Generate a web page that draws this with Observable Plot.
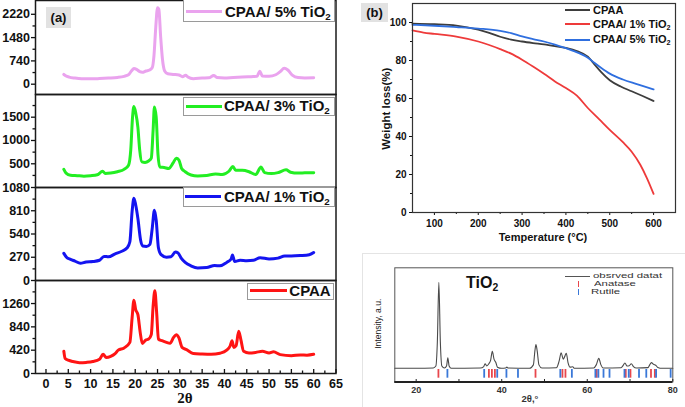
<!DOCTYPE html>
<html><head><meta charset="utf-8">
<script src="https://cdn.jsdelivr.net/npm/d3@7"></script>
<script src="https://cdn.jsdelivr.net/npm/@observablehq/plot@0.6"></script>
<style>
body{margin:0;background:#fff;}
#root{position:relative;width:685px;height:407px;overflow:hidden;font-family:"Liberation Sans",Arial,sans-serif;color:#111;}
#root div{position:absolute;box-sizing:border-box;}
sub{font-size:0.65em;line-height:0;vertical-align:-0.28em;}
</style></head>
<body><div id="root"></div>
<script>
// ---------- DATA ----------
// Panel (a): XRD patterns [2θ, intensity]
const cpaa5Ti = [[4,310],[4.4,270],[5.2,225],[6.5,195],[8,175],[10,170],[12,180],[14,195],[16,215],[17.5,250],[18.5,300],[19.2,430],[19.7,495],[20.3,470],[21,400],[21.6,380],[22.4,420],[23.2,450],[23.8,520],[24.2,900],[24.6,1800],[25,2430],[25.3,2380],[25.7,1500],[26.1,800],[26.6,420],[27.3,330],[28.5,310],[29.8,290],[30.6,240],[31.3,285],[31.8,230],[33,175],[35,195],[36.5,205],[37.6,275],[38.3,215],[40,200],[42,215],[44,225],[46,240],[47.3,250],[47.9,410],[48.5,260],[50,250],[51.5,300],[52.5,400],[53.4,505],[54.2,450],[55.2,290],[56.5,210],[58,200],[60,205]];
const cpaa3Ti = [[4,380],[4.5,300],[5.5,255],[7,245],[8.5,235],[10,245],[11.5,265],[12.7,340],[13.3,290],[14.5,300],[16,330],[17.5,380],[18.5,470],[19,800],[19.4,1500],[19.7,1730],[20.1,1600],[20.6,1280],[21,800],[21.5,540],[22.2,530],[23,560],[23.6,620],[24,1200],[24.3,1720],[24.7,1500],[25.1,700],[25.5,430],[26.5,420],[27.5,400],[28.5,520],[29.2,620],[29.8,580],[30.4,400],[31.2,330],[32.5,260],[34,240],[36,250],[38,280],[39.5,270],[41,340],[41.9,440],[42.5,360],[44,360],[45.5,330],[47,270],[48.2,430],[49,310],[50.5,290],[52,310],[53.8,370],[54.8,320],[56.5,300],[58,305],[60,310]];
const cpaa1Ti = [[4,315],[4.6,270],[5.5,245],[6.5,225],[7.7,200],[9,215],[10.5,220],[12,235],[13,280],[14,275],[15.5,310],[17,340],[18.2,380],[18.8,450],[19.3,800],[19.7,955],[20.1,880],[20.6,720],[21.2,470],[21.7,400],[22.5,395],[23.3,420],[23.8,600],[24.3,815],[24.7,700],[25.2,380],[25.8,300],[27,270],[28,275],[29,330],[29.6,320],[30.3,260],[31.2,210],[32.5,170],[34,145],[36,150],[37.8,175],[39,170],[40.5,210],[41.5,250],[41.8,295],[42.3,220],[43.5,235],[45,230],[46.5,235],[48,265],[50,250],[52,260],[53.5,285],[55,285],[57,290],[59,300],[60,325]];
const cpaaXrd = [[4,400],[4.3,270],[5,240],[6,215],[7.5,195],[9,200],[10.5,215],[12,255],[12.8,345],[13.5,290],[14.5,310],[15.5,360],[16.2,420],[17.5,460],[18.8,560],[19.3,1000],[19.7,1320],[20.1,1150],[20.6,1060],[21.1,750],[21.6,540],[22.3,600],[23,620],[23.6,700],[24,1200],[24.4,1490],[24.8,1100],[25.2,620],[26,590],[27,560],[27.8,545],[28.6,650],[29.2,700],[29.8,640],[30.5,470],[31.5,430],[33,360],[35,350],[37,345],[39,365],[40.5,420],[41.3,500],[41.7,590],[42.1,470],[42.6,500],[43.2,760],[43.7,600],[44.3,400],[45.5,370],[47,380],[48.5,400],[50,370],[51,390],[52.5,340],[55,320],[57,335],[58.5,330],[60,345]];
const xTicksA = [0,5,10,15,20,25,30,35,40,45,50,55,60,65];
const xMinorA = [2.5,7.5,12.5,17.5,22.5,27.5,32.5,37.5,42.5,47.5,52.5,57.5,62.5];
const yTicks5 = [0,740,1480,2220], yMinor5 = [370,1110,1850];
const yTicks3 = [500,1000,1500], yMinor3 = [250,750,1250,1750];
const yTicks1 = [0,270,540,810,1080], yMinor1 = [135,405,675,945];
const yTicks0 = [0,420,840,1260], yMinor0 = [210,630,1050,1470];

// Panel (b): TGA [temperature °C, weight %]
const tgaCpaa = [[50,99.4],[100,99.1],[150,98.4],[200,96.2],[225,94.5],[250,92.5],[275,91],[300,90],[325,89.2],[350,88.5],[375,87.6],[400,86.6],[425,85],[450,82],[465,78],[480,74],[500,69.6],[525,66.3],[550,63.8],[575,61.3],[600,58.7]];
const tgaCpaa1Ti = [[50,95.8],[75,94.7],[100,94],[150,92.6],[200,90],[250,86],[275,83.6],[300,80.4],[325,76.8],[350,73],[375,69],[400,65.5],[425,61.5],[450,55],[475,49.3],[500,43.5],[530,37],[550,32],[570,25],[585,18],[600,9.8]];
const tgaCpaa5Ti = [[50,98.8],[100,98.3],[150,97.6],[200,96.8],[250,95.6],[275,94.4],[300,92.7],[325,91.3],[350,90],[375,88.4],[400,86.5],[430,83.9],[450,81.5],[465,78.8],[480,76.2],[500,73.1],[530,70],[560,67.7],[600,64.8]];
const tgaXTicks = [100,200,300,400,500,600], tgaXMinor = [150,250,350,450,550];
const tgaYTicks = [0,20,40,60,80,100], tgaYMinor = [10,30,50,70,90];

// TiO2 reference pattern [2θ, intensity a.u.]
const tio2Pattern = [[15,12],[20,12],[24,12.3],[24.6,14],[24.95,35],[25.3,87.4],[25.65,35],[26,14],[26.6,12.3],[27.1,14],[27.4,21.3],[27.7,14],[28.2,12],[35,12.2],[35.8,13.5],[36.1,16],[36.5,14],[37,16],[37.4,19],[37.8,26.8],[38.2,20],[38.6,17.3],[39,13],[40,12],[40.9,12.3],[41.2,13],[41.5,12.2],[46.5,12],[47.4,15],[47.75,27],[48,32.8],[48.3,27],[48.7,15],[49.4,12.2],[52.8,12.5],[53.4,18],[53.9,25.5],[54.4,20],[54.7,22],[55.1,25.2],[55.5,17],[56,13],[56.6,13.3],[57,12],[61.5,12.3],[62.1,15],[62.7,20.7],[63.2,15],[63.7,12.3],[67.9,12.5],[68.4,14.5],[68.8,16.7],[69.3,14],[69.8,14.2],[70.3,16],[70.8,13.5],[71.5,12.2],[74.2,12.6],[74.6,15],[75,17],[75.5,15.5],[76,14.7],[76.5,12.8],[77.5,12],[80,12]];
const anatasePos = [25.2,37.0,37.7,38.4,47.9,54.2,54.9,62.2,69.0,70.1,74.9,75.8];
const rutilePos = [27.3,35.9,38.95,41.1,43.8,53.7,56.4,61.9,62.6,63.8,65.2,68.7,69.7,72.1,73.8,76.1,79.5];
const tio2XMinor = [20,30,40,50,60,70,80], tio2XTicks = [20,40,60,80];

// ---------- DRAWING ----------
const root = document.getElementById("root");
const plain = d => String(d);
function put(el, left, top) { const d = document.createElement("div"); d.style.left = left + "px"; d.style.top = top + "px"; d.append(el); root.append(d); return d; }
function div(left, top, w, h, css) { const d = document.createElement("div"); d.style.cssText = `left:${left}px;top:${top}px;width:${w}px;height:${h}px;${css||""}`; root.append(d); return d; }
function txt(left, yc, fs, content, css) { const d = document.createElement("div"); d.style.cssText = `left:${left}px;top:${yc - fs/2}px;font-size:${fs}px;line-height:1;white-space:nowrap;${css||""}`; d.innerHTML = content; root.append(d); return d; }

const svgStyle = {fontFamily: "Liberation Sans, Arial, sans-serif", overflow: "visible", background: "transparent", color: "#111"};

function xrdPlot(series, color, yDomain, yMajor, yMinor, frameH, withX) {
  const mb = withX ? 34 : 0;
  const marks = [
    Plot.axisY(yMajor, {tickSize: 4, tickPadding: 1.5, tickFormat: plain, fontSize: 12.5, fontWeight: "bold", label: null, strokeWidth: 1.3}),
    Plot.axisY(yMinor, {tickSize: 2.5, tickFormat: () => "", label: null, strokeWidth: 1.3}),
    Plot.line(series, {x: d => d[0], y: d => d[1], stroke: color, strokeWidth: 3, curve: "monotone-x", strokeLinejoin: "round"}),
    Plot.frame({stroke: "#1a1a1a", strokeWidth: 1.5})
  ];
  if (withX) marks.push(
    Plot.axisX(xTicksA, {tickSize: 4, dy: -4, tickFormat: () => "", label: null, strokeWidth: 1.3}),
    Plot.axisX(xMinorA, {tickSize: 2.5, dy: -2.5, tickFormat: () => "", label: null, strokeWidth: 1.3}),
    Plot.axisX(xTicksA, {tickSize: 0, tickPadding: 5.5, tickFormat: plain, fontSize: 12.5, fontWeight: "bold", label: null})
  );
  return Plot.plot({
    width: 340, height: frameH + mb, marginLeft: 35, marginRight: 4.5, marginTop: 0, marginBottom: mb,
    x: {domain: [-2.35, 65], axis: null}, y: {domain: yDomain, axis: null},
    style: svgStyle, marks
  });
}

const cViolet = "#eaa3ee", cGreen = "#22ee22", cBlue = "#1414f0", cRed = "#ff1414";
put(xrdPlot(cpaa5Ti, cViolet, [-327, 2658], yTicks5, yMinor5, 94, false), 0, 0);
put(xrdPlot(cpaa3Ti, cGreen, [-9, 1987], yTicks3, yMinor3, 93, false), 0, 94);
put(xrdPlot(cpaa1Ti, cBlue, [0, 1080], yTicks1, yMinor1, 93, false), 0, 187);
put(xrdPlot(cpaaXrd, cRed, [0, 1675], yTicks0, yMinor0, 93, true), 0, 280);

// legends panel (a)
const legCss = "border:1px solid #9a9a9a;background:#fff;";
div(183, -1, 152, 23, legCss); div(186, 9.5, 36, 3, `background:${cViolet}`); txt(225, 11.5, 15, "CPAA/ 5% TiO<sub>2</sub>", "font-weight:bold");
div(183, 96.5, 152, 19, legCss); div(186, 104.5, 36, 3, `background:${cGreen}`); txt(224, 105.5, 15, "CPAA/ 3% TiO<sub>2</sub>", "font-weight:bold");
div(183, 187, 152, 19.5, legCss); div(185, 195, 36, 3, `background:${cBlue}`); txt(224, 196.5, 15, "CPAA/ 1% TiO<sub>2</sub>", "font-weight:bold");
div(247, 283, 87, 16.5, legCss); div(250, 289, 37, 3, `background:${cRed}`); txt(289.3, 290.5, 15, "CPAA", "font-weight:bold");
div(46, 7, 25, 21, "background:#e2e2e2"); txt(46, 17.5, 13, "(a)", "width:25px;text-align:center;font-weight:bold");
txt(165, 398, 15, "2θ", "width:40px;text-align:center;font-family:'Liberation Serif','DejaVu Serif',serif;font-weight:bold");

// Panel (b) TGA
const cG = "#3d3d3d", cR = "#ee3a3a", cB = "#2f6fdf";
put(Plot.plot({
  width: 345, height: 250, marginLeft: 72, marginRight: 10, marginTop: 3, marginBottom: 38,
  x: {domain: [50, 650], axis: null}, y: {domain: [0, 110], axis: null}, style: svgStyle,
  marks: [
    Plot.axisY(tgaYTicks, {tickSize: 3, tickPadding: 3, tickFormat: plain, fontSize: 10, fontWeight: "bold", label: null}),
    Plot.axisY(tgaYMinor, {tickSize: 2, tickFormat: () => "", label: null}),
    Plot.axisX(tgaXTicks, {tickSize: 3, tickPadding: 4, tickFormat: plain, fontSize: 10, fontWeight: "bold", label: null}),
    Plot.axisX(tgaXMinor, {tickSize: 2, tickFormat: () => "", label: null}),
    Plot.line(tgaCpaa, {x: d => d[0], y: d => d[1], stroke: cG, strokeWidth: 1.8, curve: "monotone-x"}),
    Plot.line(tgaCpaa1Ti, {x: d => d[0], y: d => d[1], stroke: cR, strokeWidth: 1.8, curve: "monotone-x"}),
    Plot.line(tgaCpaa5Ti, {x: d => d[0], y: d => d[1], stroke: cB, strokeWidth: 1.8, curve: "monotone-x"}),
    Plot.frame({stroke: "#333", strokeWidth: 1.2})
  ]
}), 340, 0);
div(361, 3, 27, 19, "background:#e2e2e2"); txt(361, 12.5, 13, "(b)", "width:27px;text-align:center;font-weight:bold");
div(565, 9.3, 25, 2, `background:${cG}`); txt(593, 10.5, 11, "CPAA", "font-weight:bold");
div(565, 23, 25, 2, `background:${cR}`); txt(593, 24.3, 11, "CPAA/ 1% TiO<sub>2</sub>", "font-weight:bold");
div(565, 38.5, 25, 2, `background:${cB}`); txt(593, 39.8, 11, "CPAA/ 5% TiO<sub>2</sub>", "font-weight:bold");
txt(480, 237, 11, "Temperature (°C)", "width:126px;text-align:center;font-weight:bold");
txt(326.5, 109, 11.5, "Weight loss(%)", "width:120px;text-align:center;font-weight:bold;transform:rotate(-90deg);");

// TiO2 reference panel
div(362, 253, 330, 160, "border:1px solid #e4e4e4");
const frameH3 = 157 - 17.3 - 25.5;
put(Plot.plot({
  width: 325, height: 157, marginLeft: 34.3, marginRight: 12.7, marginTop: 17.3, marginBottom: 25.5,
  x: {domain: [15, 80], axis: null}, y: {domain: [0, 100], axis: null}, style: svgStyle,
  marks: [
    Plot.tickX(anatasePos, {x: d => d, stroke: "#e8474c", strokeWidth: 1.8, insetTop: frameH3 - 12.5, insetBottom: 3.8}),
    Plot.tickX(rutilePos, {x: d => d, stroke: "#3a78d8", strokeWidth: 1.8, insetTop: frameH3 - 12.5, insetBottom: 3.8}),
    Plot.line(tio2Pattern, {x: d => d[0], y: d => d[1], stroke: "#4a4a4a", strokeWidth: 1.1, curve: "monotone-x"}),
    Plot.frame({stroke: "#555", strokeWidth: 1}),
    Plot.ruleY([0], {stroke: "#222", strokeWidth: 2}),
    Plot.axisX(tio2XMinor, {tickSize: 2.5, dy: -2.5, tickFormat: () => "", label: null, stroke: "#222"}),
    Plot.axisX(tio2XTicks, {tickSize: 0, tickPadding: 4.3, tickFormat: plain, fontSize: 9, fontWeight: "bold", fill: "#333", label: null})
  ]
}), 360, 250);
txt(466, 283, 16, "TiO<sub>2</sub>", "font-weight:bold");
const smallLeg = "color:#333;transform:scaleX(1.52);transform-origin:left center;";
div(565, 275.5, 25, 1, "background:#555");
txt(593, 275.8, 7.5, "obsrved datat", smallLeg);
div(577.5, 281, 1.8, 5.7, "background:#e8474c");
txt(594, 284, 7.5, "Anatase", smallLeg);
div(577.5, 289, 1.8, 5.5, "background:#3a78d8");
txt(591, 292, 7.5, "Rutile", smallLeg);
txt(510, 399, 9.5, "2θ,°", "width:40px;text-align:center;font-weight:bold;color:#333");
txt(338, 323.7, 9.5, "Intensity, a.u.", "width:80px;text-align:center;color:#222;font-family:'Liberation Sans Narrow','Liberation Sans',sans-serif;transform:rotate(-90deg) scaleX(0.9);");
</script>
</body></html>
